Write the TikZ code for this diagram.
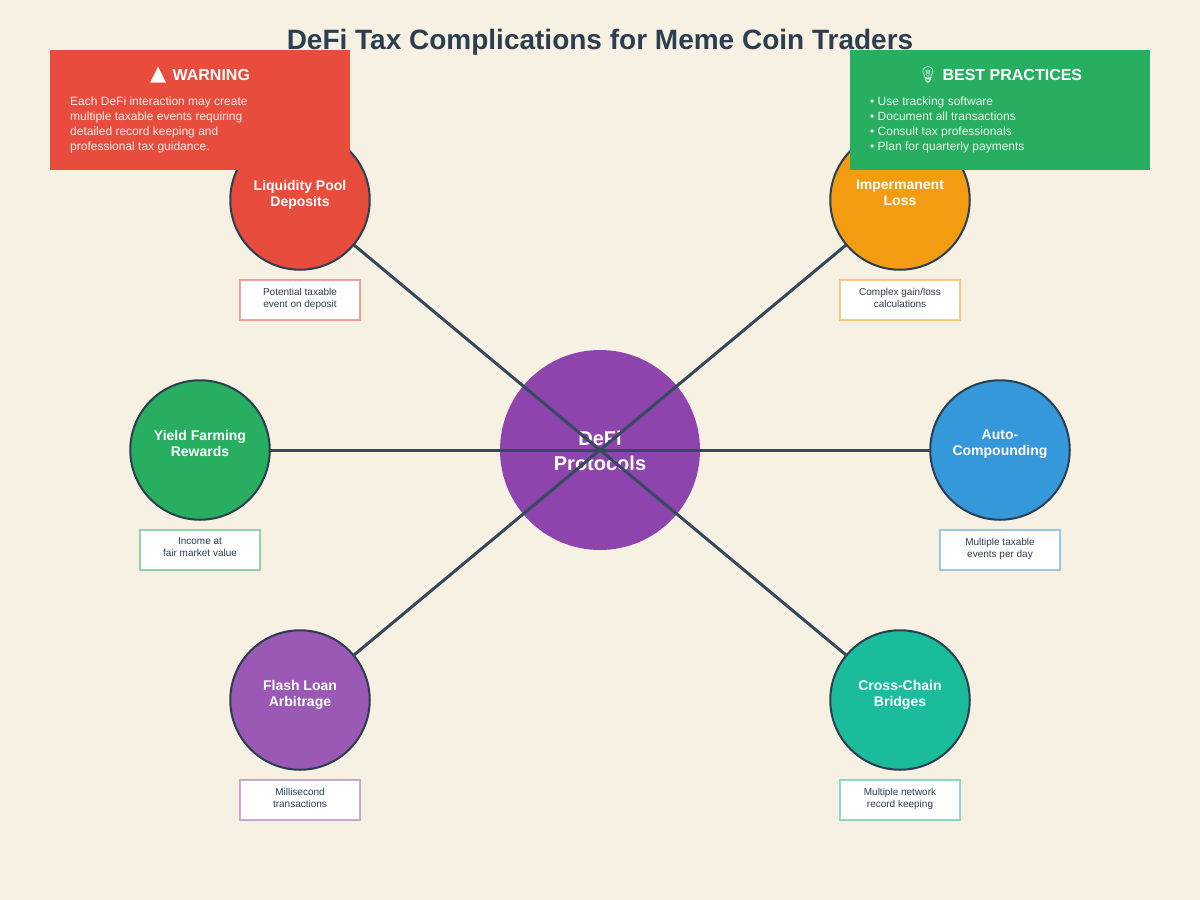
\documentclass[tikz,border=0pt]{standalone}
\usepackage{fontspec}
\setmainfont{Liberation Sans}
\newfontfamily\symfont{DejaVu Sans}
\newfontfamily\emojifont{Noto Emoji}
\usepackage{xcolor}
\definecolor{paper}{HTML}{F7F1E3}
\definecolor{ink}{HTML}{2C3E50}
\definecolor{spoke}{HTML}{34495E}
\definecolor{hubpurple}{HTML}{8E44AD}
\definecolor{poolred}{HTML}{E74C3C}
\definecolor{lossorange}{HTML}{F39C12}
\definecolor{yieldgreen}{HTML}{27AE60}
\definecolor{autoblue}{HTML}{3498DB}
\definecolor{flashpurple}{HTML}{9B59B6}
\definecolor{bridgeteal}{HTML}{1ABC9C}

\begin{document}
\begin{tikzpicture}[x=1pt, y=-1pt,
	bubble/.style={circle, draw=ink, line width=2pt, minimum size=139.5pt, inner sep=0pt, outer sep=0pt},
	bubtext/.style={align=center, text=white, yshift=4.5pt, inner sep=0pt,
		execute at begin node=\strut, execute at end node=\strut,
		font=\fontsize{14}{16}\selectfont\bfseries},
	note/.style={draw, line width=1.6pt, draw opacity=0.5, fill=white, minimum width=119.5pt,
		minimum height=39.5pt, inner sep=0pt, outer sep=0pt},
	notetext/.style={align=center, text=ink, yshift=0.8pt, inner sep=0pt,
		execute at begin node=\strut, execute at end node=\strut,
		font=\fontsize{10}{12}\selectfont},
	panel/.style={minimum width=300pt, minimum height=120pt, inner sep=0pt, outer sep=0pt},
	panelhead/.style={text=white, inner sep=0pt, font=\fontsize{16}{19}\selectfont\bfseries},
	paneltext/.style={align=left, text=white, text opacity=0.9, inner sep=0pt,
		font=\fontsize{12}{15}\selectfont},
	arr/.style={line width=3pt, draw=spoke}
]
	\useasboundingbox (0, 0) rectangle (1200, 900);
	\fill[paper] (0, 0) rectangle (1200, 900);

	% Title
	\node[text=ink, inner sep=0pt, font=\fontsize{28}{34}\selectfont\bfseries] (title) at (600, 42.5)
		{DeFi Tax Complications for Meme Coin Traders};

	% Hub
	\node[circle, fill=hubpurple, minimum size=200pt, inner sep=0pt, outer sep=0pt] (hub) at (600, 450) {};
	\node[align=center, text=white, inner sep=0pt, font=\fontsize{20}{25}\selectfont\bfseries]
		(hubname) at (600, 451) {DeFi\\Protocols};

	% Protocols
	\node[bubble, fill=poolred]     (pool)   at (300, 200) {};
	\node[bubble, fill=lossorange]  (loss)   at (900, 200) {};
	\node[bubble, fill=yieldgreen]  (yield)  at (200, 450) {};
	\node[bubble, fill=autoblue]    (auto)   at (1000, 450) {};
	\node[bubble, fill=flashpurple] (flash)  at (300, 700) {};
	\node[bubble, fill=bridgeteal]  (bridge) at (900, 700) {};

	\draw[arr] (hub.center) -- (pool);
	\draw[arr] (hub.center) -- (loss);
	\draw[arr] (hub.center) -- (yield);
	\draw[arr] (hub.center) -- (auto);
	\draw[arr] (hub.center) -- (flash);
	\draw[arr] (hub.center) -- (bridge);

	\node[bubtext] (poolname)   at (pool.center)   {Liquidity Pool\\Deposits};
	\node[bubtext] (lossname)   at (loss.center)   {Impermanent\\Loss};
	\node[bubtext] (yieldname)  at (yield.center)  {Yield Farming\\Rewards};
	\node[bubtext] (autoname)   at (auto.center)   {Auto-\\Compounding};
	\node[bubtext] (flashname)  at (flash.center)  {Flash Loan\\Arbitrage};
	\node[bubtext] (bridgename) at (bridge.center) {Cross-Chain\\Bridges};

	% Notes
	\node[note, draw=poolred]     (poolnote)   at (300, 300)  {};
	\node[note, draw=lossorange]  (lossnote)   at (900, 300)  {};
	\node[note, draw=yieldgreen]  (yieldnote)  at (200, 550)  {};
	\node[note, draw=autoblue]    (autonote)   at (1000, 550) {};
	\node[note, draw=flashpurple] (flashnote)  at (300, 800)  {};
	\node[note, draw=bridgeteal]  (bridgenote) at (900, 800)  {};

	\node[notetext] at (poolnote.center)   {Potential taxable\\event on deposit};
	\node[notetext] at (lossnote.center)   {Complex gain/loss\\calculations};
	\node[notetext] at (yieldnote.center)  {Income at\\fair market value};
	\node[notetext] at (autonote.center)   {Multiple taxable\\events per day};
	\node[notetext] at (flashnote.center)  {Millisecond\\transactions};
	\node[notetext] at (bridgenote.center) {Multiple network\\record keeping};

	% Warning panel
	\node[panel, fill=poolred] (warn) at (200, 110) {};
	\node[panelhead] (warnhead) at (200, 75) {{\symfont\fontsize{21}{19}\selectfont ▲}\hspace{2pt} WARNING};
	\node[paneltext, anchor=north west] (warnbody) at (70, 97)
		{Each DeFi interaction may create\\multiple taxable events requiring\\detailed record keeping and\\professional tax guidance.};

	% Best practices panel
	\node[panel, fill=yieldgreen] (best) at (1000, 110) {};
	\node[panelhead] (besthead) at (1000, 75.5) {{\emojifont 💡} BEST PRACTICES};
	\node[paneltext, anchor=north west] (bestbody) at (870, 97)
		{• Use tracking software\\• Document all transactions\\• Consult tax professionals\\• Plan for quarterly payments};
\end{tikzpicture}
\end{document}
